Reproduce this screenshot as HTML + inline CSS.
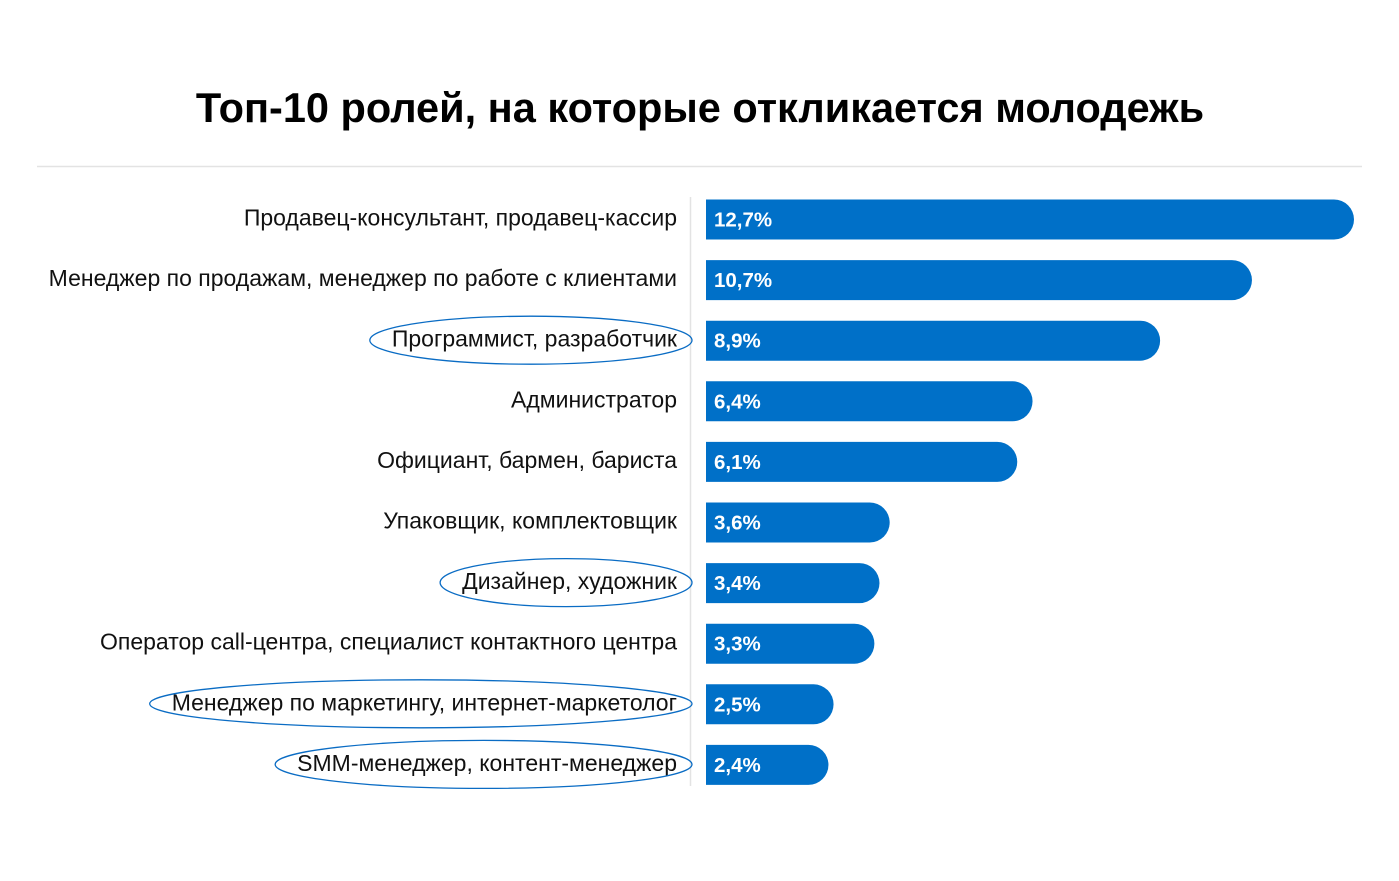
<!DOCTYPE html>
<html><head><meta charset="utf-8"><style>
body{margin:0;background:#fff;width:1399px;height:881px;overflow:hidden}
svg{display:block}
</style></head><body>
<svg id="chart" width="1399" height="881" xmlns="http://www.w3.org/2000/svg">
<text x="700" y="122" text-anchor="middle" font-family="Liberation Sans, sans-serif" font-weight="bold" font-size="41.5" fill="#000">Топ-10 ролей, на которые откликается молодежь</text>
<line x1="37" y1="166.5" x2="1362" y2="166.5" stroke="#e3e3e3" stroke-width="1.5"/>
<line x1="690.5" y1="197" x2="690.5" y2="786" stroke="#e3e3e3" stroke-width="1.5"/>
<g id="bars"></g>
</svg>
<script>
const categories=["Продавец-консультант, продавец-кассир","Менеджер по продажам, менеджер по работе с клиентами","Программист, разработчик","Администратор","Официант, бармен, бариста","Упаковщик, комплектовщик","Дизайнер, художник","Оператор call-центра, специалист контактного центра","Менеджер по маркетингу, интернет-маркетолог","SMM-менеджер, контент-менеджер"];
const values=[12.7,10.7,8.9,6.4,6.1,3.6,3.4,3.3,2.5,2.4];
const valueLabels=["12,7%","10,7%","8,9%","6,4%","6,1%","3,6%","3,4%","3,3%","2,5%","2,4%"];
const highlighted=[false,false,true,false,false,false,true,false,true,true];
const NS="http://www.w3.org/2000/svg";
const x0=706,pxPer=648/12.7;
const xs=v=>v*pxPer;
const yc=i=>219.5+i*60.6;
const g=document.getElementById('bars');
function mk(t,a){const e=document.createElementNS(NS,t);for(const k in a)e.setAttribute(k,a[k]);return e;}
categories.forEach((c,i)=>{
 const y=yc(i),w=xs(values[i]),h=40,r=20;
 const p=mk('path',{d:`M${x0},${y-h/2} H${x0+w-r} A${r},${r} 0 0 1 ${x0+w-r},${y+h/2} H${x0} Z`,fill:'#0070c8'});
 
 
 g.appendChild(p);
 const vt=mk('text',{x:714,y:y+7,'font-family':'Liberation Sans, sans-serif','font-weight':'bold','font-size':'20.5',fill:'#fff'});
 vt.textContent=valueLabels[i];
 
 
 g.appendChild(vt);
 const lt=mk('text',{x:677,y:y+6,'text-anchor':'end','font-family':'Liberation Sans, sans-serif','font-size':'23',fill:'#111'});
 lt.textContent=c;
 
 
 g.appendChild(lt);
 if(highlighted[i]){
  const tw=lt.getComputedTextLength();
  const left=677-tw-22,right=692;
  const el=mk('ellipse',{cx:(left+right)/2,cy:y-0.5,rx:(right-left)/2,ry:24,fill:'none',stroke:'#0a6cc4','stroke-width':'1.3'});
  
  
  g.appendChild(el);
 }
});
</script>
</body></html>
